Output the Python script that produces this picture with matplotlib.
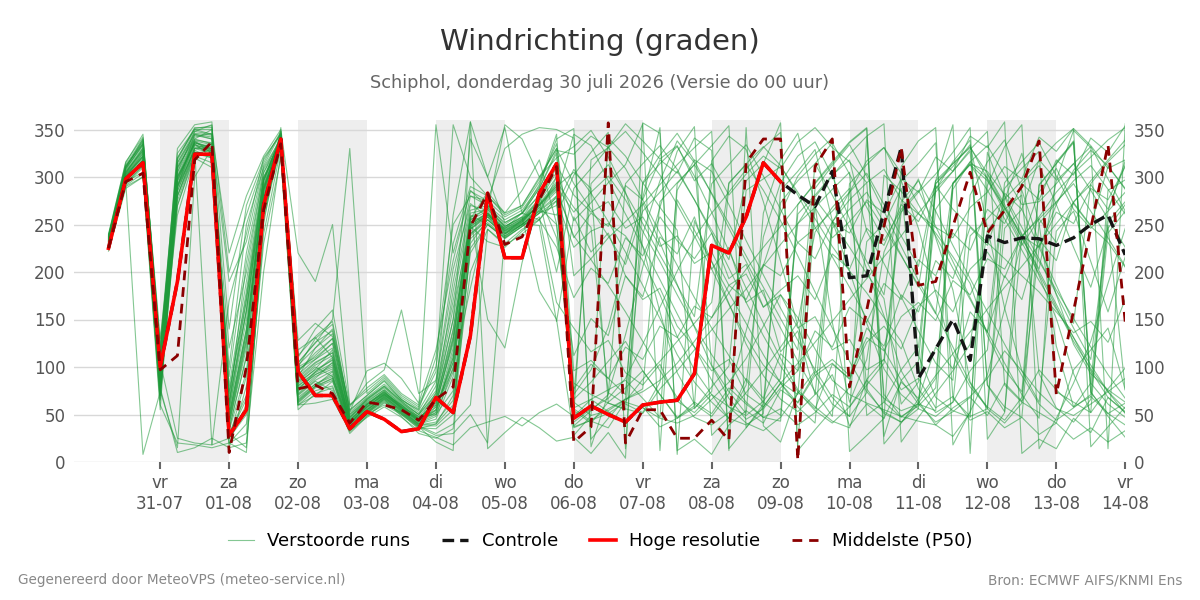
import matplotlib
matplotlib.use("Agg")
import matplotlib.pyplot as plt
import pandas as pd

plt.rcParams["font.family"] = ["DejaVu Sans"]

# tijdas: 6-uurlijks vanaf 30-07 06 uur
times = pd.date_range("2026-07-30 06:00", "2026-08-14 00:00", freq="6h")

hires = [225, 298, 315, 100, 190, 324, 324, 28, 55, 270, 340, 95, 70, 70, 35, 53, 45, 32, 35, 68,
         52, 133, 283, 215, 215, 283, 314, 46, 59, 50, 42, 60, 63, 65, 93, 228, 220, 258, 315, 295]

controle = hires + [281, 269, 306, 194, 196, 263, 331, 88, 119, 150, 107, 238, 231, 236, 235, 228,
                    236, 250, 260, 218]

p50 = [225, 295, 304, 97, 112, 318, 337, 10, 100, 265, 335, 77, 81, 72, 41, 63, 60, 55, 44, 66,
       79, 248, 283, 229, 237, 276, 311, 21, 37, 357, 20, 55, 55, 25, 25, 44, 23, 315, 340, 340,
       2, 311, 340, 79, 160, 248, 331, 186, 190, 248, 305, 241, 265, 290, 338, 71, 159, 246, 334, 147]

# verstoorde runs: eerste 27 stappen (t/m 05-08 18 uur)
ens_early = [
    [232, 305, 330, 85, 300, 335, 320, 40, 120, 285, 338, 75, 95, 110, 42, 58, 72, 60, 45, 55, 120, 245, 260, 245, 255, 270, 290],
    [228, 298, 318, 70, 320, 350, 345, 25, 60, 270, 345, 65, 80, 95, 38, 55, 68, 55, 40, 45, 90, 260, 250, 235, 248, 262, 300],
    [235, 310, 340, 120, 280, 330, 335, 80, 190, 300, 330, 100, 110, 125, 50, 65, 78, 62, 50, 70, 180, 270, 265, 355, 340, 300, 320],
    [225, 295, 305, 60, 20, 18, 15, 20, 40, 230, 320, 60, 70, 85, 35, 50, 60, 50, 35, 40, 60, 200, 245, 230, 245, 255, 280],
    [240, 315, 345, 110, 330, 355, 358, 30, 15, 250, 352, 90, 120, 140, 55, 70, 85, 65, 55, 110, 250, 280, 270, 255, 265, 290, 340],
    [230, 300, 325, 95, 260, 320, 310, 100, 250, 310, 340, 85, 100, 90, 40, 60, 75, 58, 48, 50, 75, 240, 255, 240, 250, 268, 250],
    [226, 292, 310, 75, 15, 300, 330, 20, 10, 260, 335, 70, 85, 75, 30, 48, 62, 52, 38, 30, 40, 60, 245, 228, 240, 255, 275],
    [238, 312, 335, 130, 290, 345, 340, 60, 170, 295, 342, 110, 140, 160, 60, 75, 90, 70, 58, 95, 355, 300, 280, 260, 270, 300, 330],
    [222, 288, 300, 55, 310, 340, 350, 15, 80, 280, 348, 60, 75, 80, 35, 52, 66, 48, 30, 25, 35, 230, 255, 240, 255, 275, 200],
    [234, 306, 328, 100, 270, 325, 328, 120, 200, 305, 336, 90, 105, 115, 45, 62, 74, 56, 44, 65, 140, 255, 268, 248, 258, 180, 150],
    [230, 302, 322, 90, 300, 338, 325, 45, 130, 288, 340, 78, 92, 100, 40, 57, 70, 57, 42, 55, 110, 250, 262, 242, 252, 272, 295],
    [236, 308, 335, 105, 25, 20, 18, 170, 240, 320, 345, 95, 115, 130, 48, 66, 80, 64, 50, 80, 170, 265, 270, 250, 262, 288, 325],
    [229, 296, 315, 80, 285, 330, 330, 35, 110, 275, 340, 72, 88, 105, 38, 54, 69, 54, 40, 48, 100, 240, 258, 238, 250, 266, 285],
    [233, 304, 330, 95, 305, 348, 355, 55, 150, 292, 344, 82, 98, 118, 44, 60, 73, 60, 46, 60, 130, 258, 150, 120, 210, 276, 310],
    [227, 294, 312, 70, 280, 325, 320, 20, 30, 240, 330, 68, 82, 92, 36, 53, 67, 53, 39, 40, 70, 220, 250, 236, 248, 262, 270],
    [237, 310, 338, 125, 320, 352, 352, 200, 260, 315, 348, 105, 125, 150, 330, 72, 88, 68, 56, 355, 220, 285, 275, 258, 268, 295, 335],
    [231, 300, 320, 88, 295, 336, 332, 50, 140, 290, 338, 80, 95, 108, 41, 59, 71, 58, 44, 52, 115, 248, 260, 244, 254, 270, 292],
    [224, 290, 300, 65, 290, 328, 18, 25, 90, 265, 332, 62, 78, 86, 34, 51, 64, 50, 36, 35, 50, 235, 252, 237, 250, 264, 260],
    [239, 316, 342, 115, 310, 342, 346, 70, 180, 300, 340, 100, 130, 145, 52, 68, 82, 66, 52, 75, 260, 358, 300, 252, 262, 292, 345],
    [230, 303, 324, 92, 300, 334, 328, 90, 220, 308, 338, 86, 102, 112, 43, 61, 72, 57, 45, 58, 105, 250, 262, 244, 254, 274, 300],
    [228, 297, 316, 78, 10, 15, 25, 15, 20, 200, 325, 55, 72, 78, 32, 49, 63, 51, 37, 28, 30, 50, 20, 240, 250, 265, 280],
    [235, 309, 333, 108, 315, 345, 342, 65, 160, 296, 342, 98, 108, 125, 47, 64, 76, 61, 48, 68, 150, 262, 266, 248, 258, 282, 315],
    [232, 301, 321, 86, 296, 337, 330, 40, 125, 286, 339, 77, 92, 102, 40, 56, 70, 56, 42, 52, 105, 246, 260, 243, 253, 271, 290],
    [226, 293, 312, 72, 270, 322, 315, 30, 70, 255, 334, 66, 82, 90, 36, 52, 66, 52, 38, 38, 55, 225, 250, 236, 248, 262, 275],
    [238, 313, 340, 118, 325, 350, 350, 140, 270, 318, 346, 102, 120, 135, 54, 70, 86, 66, 54, 85, 190, 280, 275, 330, 345, 352, 350],
    [230, 299, 318, 82, 290, 333, 326, 45, 135, 283, 338, 74, 90, 98, 40, 55, 69, 55, 41, 50, 95, 245, 258, 241, 252, 268, 287],
    [233, 305, 328, 98, 305, 340, 335, 75, 175, 298, 341, 88, 104, 115, 44, 61, 73, 59, 45, 62, 125, 255, 264, 246, 256, 276, 305],
    [229, 296, 314, 76, 280, 328, 320, 25, 50, 270, 336, 64, 80, 88, 37, 53, 67, 53, 39, 42, 65, 238, 255, 238, 250, 264, 278],
    [236, 311, 336, 112, 315, 348, 345, 220, 280, 322, 350, 220, 190, 250, 60, 78, 92, 72, 60, 100, 230, 290, 280, 262, 270, 298, 330],
    [231, 302, 322, 90, 298, 336, 330, 50, 140, 288, 340, 80, 94, 104, 41, 58, 71, 58, 43, 54, 110, 248, 261, 243, 253, 271, 293],
    [231, 303, 326, 88, 290, 338, 334, 55, 160, 290, 342, 104, 126, 138, 46, 66, 79, 63, 47, 60, 128, 252, 262, 246, 256, 270, 288],
    [227, 295, 8, 74, 285, 331, 327, 33, 95, 277, 337, 112, 132, 148, 53, 96, 104, 88, 62, 118, 212, 286, 268, 252, 262, 280, 236],
    [234, 307, 331, 102, 308, 344, 340, 190, 232, 312, 346, 92, 108, 120, 47, 63, 76, 60, 46, 63, 138, 258, 266, 248, 257, 277, 312],
    [229, 298, 318, 80, 292, 334, 328, 42, 128, 286, 341, 60, 62, 66, 33, 47, 58, 47, 33, 26, 18, 36, 42, 48, 38, 52, 61],
    [237, 311, 338, 116, 318, 351, 354, 60, 210, 304, 343, 96, 112, 130, 50, 67, 80, 64, 50, 72, 150, 340, 300, 352, 261, 288, 328],
    [232, 300, 322, 90, 297, 336, 329, 48, 136, 287, 339, 128, 146, 132, 58, 83, 97, 160, 72, 86, 203, 272, 258, 246, 262, 255, 226],
    [225, 291, 304, 66, 275, 326, 322, 28, 66, 262, 333, 63, 79, 88, 35, 51, 65, 51, 37, 21, 12, 358, 14, 31, 47, 36, 22],
    [236, 309, 334, 108, 312, 346, 344, 62, 158, 296, 343, 84, 97, 107, 42, 58, 71, 56, 43, 73, 162, 248, 232, 226, 243, 258, 168],
    [228, 297, 316, 78, 288, 330, 325, 35, 112, 280, 338, 71, 86, 96, 38, 55, 68, 54, 40, 58, 98, 183, 262, 241, 251, 249, 148],
    [233, 304, 327, 97, 302, 339, 336, 72, 170, 297, 341, 118, 131, 110, 44, 61, 74, 58, 44, 66, 132, 256, 284, 262, 286, 318, 251],
]

# verstoorde runs: vanaf 06-08 00 uur
ens_late = [
    [305, 288, 62, 55, 240, 296, 338, 315, 102, 74, 51, 262, 318, 346, 270, 147, 63, 108, 221, 263, 298, 236, 181, 84, 57, 276, 325, 251, 122, 58, 83, 264, 317],
    [42, 56, 67, 88, 124, 163, 201, 236, 262, 284, 308, 331, 347, 12, 34, 55, 79, 232, 251, 288, 112, 68, 54, 47, 326, 279, 240, 196, 151, 93, 52, 77, 99],
    [332, 349, 321, 284, 227, 158, 94, 61, 48, 72, 138, 207, 262, 301, 324, 341, 11, 28, 46, 311, 338, 352, 18, 53, 92, 161, 233, 284, 309, 272, 248, 231, 205],
    [37, 44, 51, 63, 57, 46, 41, 49, 66, 84, 109, 143, 176, 152, 119, 86, 71, 62, 55, 48, 43, 39, 57, 69, 88, 117, 96, 73, 56, 49, 61, 74, 88],
    [351, 16, 72, 134, 205, 268, 327, 353, 28, 47, 81, 237, 294, 322, 337, 301, 256, 203, 154, 96, 64, 39, 27, 52, 291, 332, 355, 14, 46, 83, 127, 188, 246],
    [71, 97, 142, 214, 278, 352, 8, 254, 211, 167, 124, 91, 66, 53, 71, 252, 284, 317, 331, 296, 246, 178, 113, 79, 58, 44, 68, 226, 271, 307, 328, 312, 287],
    [226, 243, 251, 238, 212, 176, 132, 97, 71, 58, 49, 64, 88, 251, 279, 301, 324, 343, 356, 21, 47, 72, 96, 124, 244, 266, 281, 93, 57, 42, 66, 241, 264],
    [54, 41, 63, 78, 96, 71, 47, 59, 317, 343, 329, 274, 211, 143, 92, 61, 48, 73, 302, 285, 262, 241, 216, 188, 133, 97, 74, 291, 314, 338, 73, 51, 39],
    [288, 309, 331, 348, 326, 302, 271, 238, 203, 166, 131, 102, 84, 71, 277, 253, 226, 198, 172, 61, 84, 266, 293, 314, 306, 281, 247, 214, 177, 141, 108, 249, 76],
    [28, 49, 341, 322, 294, 268, 244, 56, 79, 101, 286, 298, 311, 284, 256, 227, 201, 178, 152, 127, 77, 52, 63, 96, 118, 288, 309, 327, 74, 63, 52, 286, 297],
    [268, 247, 73, 61, 52, 84, 286, 318, 306, 271, 233, 197, 162, 128, 97, 68, 48, 342, 63, 47, 62, 88, 287, 316, 299, 267, 231, 198, 163, 127, 98, 74, 51],
    [83, 71, 62, 56, 51, 77, 96, 118, 139, 161, 182, 206, 229, 251, 268, 287, 305, 49, 63, 97, 121, 288, 306, 329, 348, 81, 63, 52, 41, 97, 118, 141, 76],
    [238, 213, 186, 158, 127, 96, 68, 47, 39, 52, 73, 96, 121, 147, 242, 268, 288, 77, 51, 42, 61, 287, 316, 339, 81, 53, 237, 258, 284, 304, 321, 339, 352],
    [51, 318, 331, 309, 276, 241, 207, 173, 141, 112, 86, 63, 49, 261, 281, 302, 318, 243, 209, 174, 138, 104, 86, 281, 316, 339, 286, 231, 176, 124, 93, 76, 63],
    [308, 283, 253, 221, 186, 151, 113, 84, 63, 46, 39, 51, 286, 306, 329, 254, 201, 146, 98, 71, 56, 48, 63, 238, 256, 277, 296, 317, 336, 351, 16, 37, 58],
    [196, 214, 236, 253, 271, 292, 313, 331, 348, 14, 36, 58, 83, 104, 126, 148, 171, 193, 216, 238, 262, 284, 306, 327, 81, 58, 47, 251, 273, 296, 312, 287, 261],
    [63, 49, 54, 66, 74, 86, 104, 127, 152, 178, 203, 226, 248, 271, 294, 316, 337, 352, 19, 41, 66, 91, 114, 137, 161, 184, 206, 228, 251, 273, 296, 318, 339],
    [302, 326, 347, 14, 273, 231, 187, 142, 101, 67, 45, 56, 78, 96, 288, 312, 334, 301, 264, 227, 191, 157, 121, 83, 56, 41, 62, 292, 314, 336, 83, 61, 47],
    [96, 107, 88, 71, 293, 314, 332, 301, 263, 222, 183, 146, 109, 76, 58, 43, 36, 87, 108, 274, 296, 264, 228, 193, 158, 124, 91, 61, 44, 57, 71, 253, 274],
    [56, 43, 36, 64, 87, 106, 127, 146, 168, 294, 313, 286, 254, 217, 179, 141, 106, 74, 53, 42, 56, 293, 311, 334, 247, 162, 96, 63, 243, 264, 211, 158, 216],
    [345, 333, 296, 261, 227, 192, 156, 121, 86, 58, 41, 33, 47, 72, 96, 253, 276, 294, 71, 48, 59, 78, 294, 313, 286, 256, 223, 191, 161, 131, 102, 74, 56],
    [38, 54, 71, 293, 314, 333, 308, 276, 241, 204, 168, 133, 101, 74, 54, 41, 58, 81, 104, 263, 284, 303, 326, 352, 24, 52, 293, 312, 271, 226, 184, 246, 271],
    [263, 284, 301, 276, 243, 211, 176, 143, 113, 86, 63, 47, 43, 271, 293, 314, 336, 351, 27, 86, 106, 293, 314, 331, 304, 271, 236, 201, 166, 131, 96, 68, 52],
    [66, 84, 106, 127, 96, 71, 46, 57, 74, 293, 314, 332, 312, 281, 247, 216, 184, 151, 118, 86, 61, 54, 293, 313, 296, 268, 239, 211, 181, 151, 121, 92, 67],
    [341, 24, 46, 67, 294, 323, 346, 317, 282, 246, 211, 176, 141, 106, 74, 48, 293, 313, 331, 304, 271, 238, 204, 171, 137, 104, 71, 46, 316, 337, 74, 48, 26],
    [57, 66, 76, 86, 67, 47, 293, 313, 333, 354, 36, 61, 273, 296, 314, 281, 246, 211, 176, 296, 314, 336, 67, 48, 56, 246, 266, 226, 186, 146, 293, 316, 334],
    [254, 273, 294, 313, 356, 12, 276, 244, 211, 178, 146, 113, 83, 58, 41, 246, 266, 284, 252, 218, 184, 296, 314, 332, 298, 263, 228, 256, 274, 293, 264, 236, 206],
    [36, 44, 56, 66, 77, 274, 294, 313, 283, 251, 217, 184, 151, 118, 314, 336, 303, 268, 233, 266, 286, 248, 211, 173, 136, 294, 316, 336, 301, 266, 246, 264, 284],
    [293, 266, 238, 208, 264, 284, 306, 276, 244, 213, 296, 314, 357, 18, 268, 236, 253, 274, 246, 217, 186, 156, 293, 316, 333, 302, 271, 274, 293, 314, 286, 256, 226],
    [68, 293, 313, 283, 251, 218, 186, 153, 293, 313, 334, 301, 266, 231, 246, 264, 284, 304, 271, 238, 206, 296, 355, 9, 303, 268, 236, 203, 296, 314, 332, 298, 264],
    [236, 262, 248, 291, 276, 318, 304, 341, 328, 12, 352, 38, 21, 74, 56, 103, 88, 141, 122, 176, 158, 212, 193, 247, 228, 283, 266, 318, 297, 349, 331, 14, 356],
    [112, 151, 133, 196, 174, 237, 219, 258, 203, 226, 168, 181, 116, 138, 71, 92, 38, 61, 46, 84, 67, 121, 98, 158, 137, 196, 171, 234, 212, 273, 249, 311, 288],
    [281, 263, 274, 246, 258, 227, 238, 209, 221, 186, 198, 163, 176, 141, 153, 118, 129, 97, 108, 76, 88, 57, 69, 44, 53, 36, 47, 29, 41, 24, 36, 21, 33],
    [48, 66, 53, 41, 58, 37, 46, 63, 51, 78, 61, 47, 56, 39, 52, 71, 58, 86, 67, 54, 61, 42, 53, 68, 49, 83, 64, 97, 76, 58, 69, 51, 62],
    [324, 343, 331, 356, 338, 319, 333, 296, 314, 281, 303, 322, 309, 337, 352, 331, 316, 294, 308, 276, 261, 247, 236, 268, 284, 311, 298, 342, 327, 351, 333, 309, 318],
    [173, 204, 188, 236, 217, 258, 233, 214, 241, 193, 208, 163, 181, 196, 171, 219, 203, 246, 228, 271, 253, 291, 266, 248, 231, 214, 196, 179, 158, 136, 148, 126, 171],
    [26, 9, 31, 4, 357, 346, 12, 24, 8, 39, 54, 41, 76, 63, 94, 108, 91, 131, 117, 153, 168, 149, 191, 176, 214, 203, 238, 226, 263, 251, 288, 276, 311],
    [141, 116, 128, 94, 81, 103, 64, 52, 71, 46, 88, 67, 114, 96, 138, 121, 163, 147, 188, 171, 213, 196, 241, 223, 266, 251, 293, 276, 318, 302, 341, 326, 354],
    [258, 221, 241, 196, 171, 183, 143, 121, 96, 108, 71, 58, 83, 62, 91, 104, 87, 126, 143, 119, 164, 181, 158, 203, 221, 194, 238, 256, 231, 274, 292, 266, 313],
    [77, 103, 88, 121, 108, 143, 131, 164, 152, 186, 171, 208, 196, 231, 214, 253, 241, 276, 262, 298, 284, 321, 306, 343, 331, 358, 9, 24, 14, 46, 31, 68, 53],
]

dagen = ["ma", "di", "wo", "do", "vr", "za", "zo"]
groen = "#1f9a3a"

fig = plt.figure(figsize=(12, 6), dpi=100)
ax = fig.add_axes([0.0617, 0.23, 0.876, 0.57])

# weekdagen om en om grijs
dag_start = pd.Timestamp("2026-07-31")
for k in range(0, 14, 2):
    d0 = dag_start + pd.Timedelta(days=k)
    ax.axvspan(d0, d0 + pd.Timedelta(days=1), color="#eeeeee", lw=0, zorder=0)

for e, l in zip(ens_early, ens_late):
    run = e + l
    assert len(run) == len(times)
    ax.plot(times, run, color=groen, lw=0.8, alpha=0.55, zorder=2)

ax.plot(times, controle, color="#151515", lw=2.4, ls=(0, (3.5, 1.8)), zorder=3)
ax.plot(times[:len(hires)], hires, color="#ff0000", lw=2.6, zorder=4)
ax.plot(times, p50, color="#8b0000", lw=2.0, ls=(0, (3.5, 2.5)), zorder=5)

ax.set_ylim(0, 360)
ax.set_xlim(pd.Timestamp("2026-07-29 18:00"), pd.Timestamp("2026-08-14 00:00"))
ax.set_yticks(range(0, 351, 50))
ax.grid(axis="y", color="#d8d8d8", lw=1)
ax.set_axisbelow(True)
for s in ax.spines.values():
    s.set_visible(False)

ticks = pd.date_range("2026-07-31", "2026-08-14", freq="D")
ax.set_xticks(ticks)
ax.set_xticklabels([dagen[t.dayofweek] + "\n" + t.strftime("%d-%m") for t in ticks])
ax.tick_params(axis="x", colors="#666666", labelcolor="#555555", length=5, width=1.5,
               labelsize=12, pad=4)
ax.tick_params(axis="y", length=0, labelsize=12, labelcolor="#555555",
               labelleft=True, labelright=True, pad=6)

fig.text(0.5, 0.93, "Windrichting (graden)", ha="center", va="center", fontsize=21, color="#333333")
fig.text(0.5, 0.862, "Schiphol, donderdag 30 juli 2026 (Versie do 00 uur)", ha="center",
         va="center", fontsize=12.75, color="#666666")

handles = [
    plt.Line2D([], [], color=groen, lw=0.8, alpha=0.55),
    plt.Line2D([], [], color="#151515", lw=2.4, ls=(0, (3.5, 1.8))),
    plt.Line2D([], [], color="#ff0000", lw=2.6),
    plt.Line2D([], [], color="#8b0000", lw=2.0, ls=(0, (3.5, 2.5))),
]
labels = ["Verstoorde runs", "Controle", "Hoge resolutie", "Middelste (P50)"]
fig.legend(handles, labels, loc="center", bbox_to_anchor=(0.5, 0.098), ncol=4, frameon=False,
           fontsize=13, handlelength=1.45, handletextpad=0.75, columnspacing=1.75)

fig.text(0.015, 0.033, "Gegenereerd door MeteoVPS (meteo-service.nl)", ha="left", va="center",
         fontsize=9.8, color="#888888")
fig.text(0.985, 0.033, "Bron: ECMWF AIFS/KNMI Ens", ha="right", va="center",
         fontsize=9.8, color="#888888")

fig.savefig("out.png", dpi=100)
